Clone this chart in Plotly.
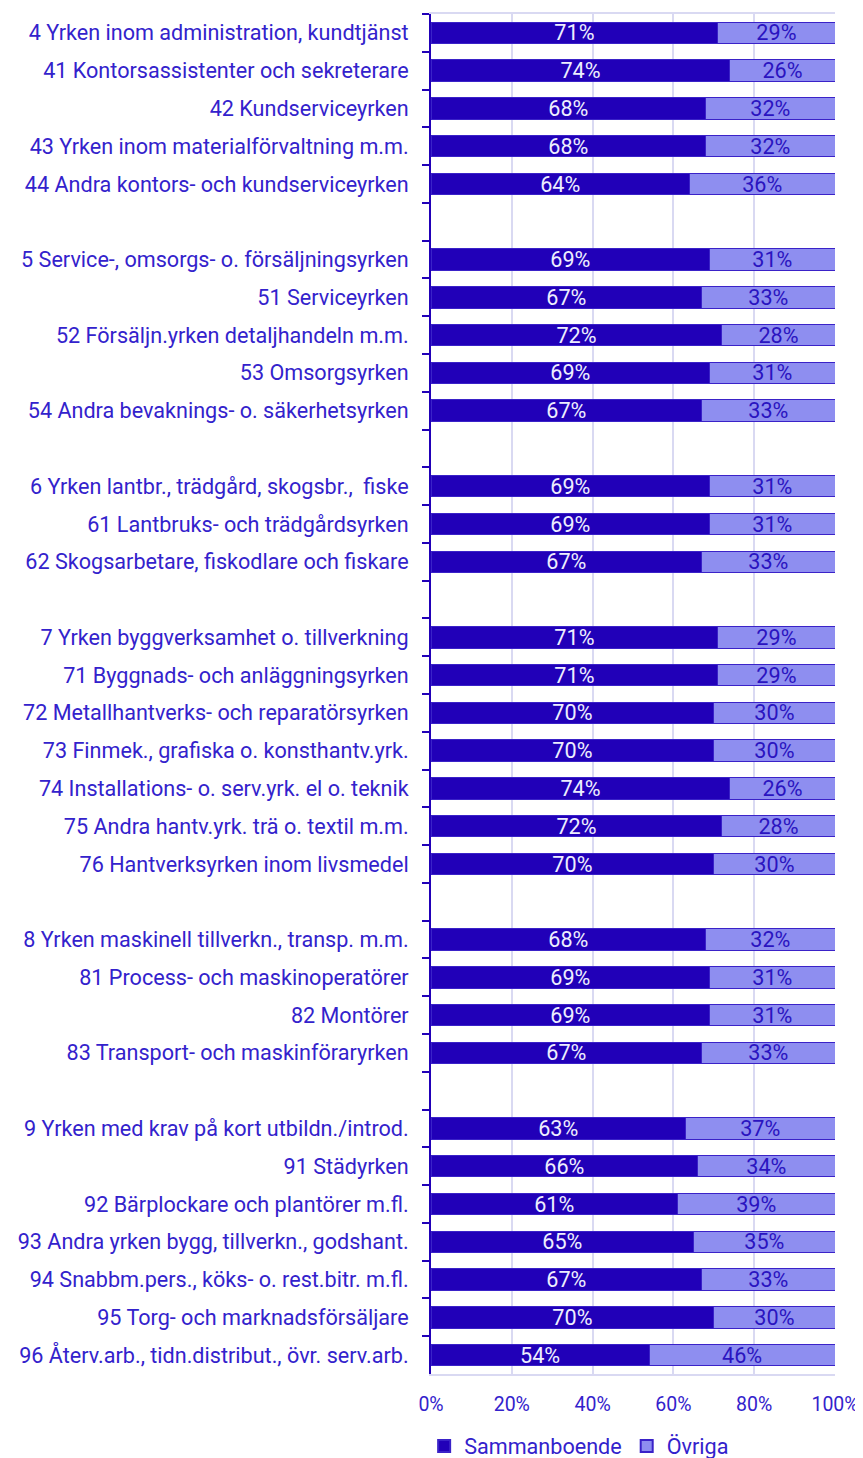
import plotly.graph_objects as go

categories = [
    "4 Yrken inom administration, kundtjänst",
    "41 Kontorsassistenter och sekreterare",
    "42 Kundserviceyrken",
    "43 Yrken inom materialförvaltning m.m.",
    "44 Andra kontors- och kundserviceyrken",
    " ",
    "5 Service-, omsorgs- o. försäljningsyrken",
    "51 Serviceyrken",
    "52 Försäljn.yrken detaljhandeln m.m.",
    "53 Omsorgsyrken",
    "54 Andra bevaknings- o. säkerhetsyrken",
    "  ",
    "6 Yrken lantbr., trädgård, skogsbr.,  fiske",
    "61 Lantbruks- och trädgårdsyrken",
    "62 Skogsarbetare, fiskodlare och fiskare",
    "   ",
    "7 Yrken byggverksamhet o. tillverkning",
    "71 Byggnads- och anläggningsyrken",
    "72 Metallhantverks- och reparatörsyrken",
    "73 Finmek., grafiska o. konsthantv.yrk.",
    "74 Installations- o. serv.yrk. el o. teknik",
    "75 Andra hantv.yrk. trä o. textil m.m.",
    "76 Hantverksyrken inom livsmedel",
    "    ",
    "8 Yrken maskinell tillverkn., transp. m.m.",
    "81 Process- och maskinoperatörer",
    "82 Montörer",
    "83 Transport- och maskinföraryrken",
    "     ",
    "9 Yrken med krav på kort utbildn./introd.",
    "91 Städyrken",
    "92 Bärplockare och plantörer m.fl.",
    "93 Andra yrken bygg, tillverkn., godshant.",
    "94 Snabbm.pers., köks- o. rest.bitr. m.fl.",
    "95 Torg- och marknadsförsäljare",
    "96 Återv.arb., tidn.distribut., övr. serv.arb.",
]

sammanboende = [71, 74, 68, 68, 64, None,
                69, 67, 72, 69, 67, None,
                69, 69, 67, None,
                71, 71, 70, 70, 74, 72, 70, None,
                68, 69, 69, 67, None,
                63, 66, 61, 65, 67, 70, 54]
ovriga = [29, 26, 32, 32, 36, None,
          31, 33, 28, 31, 33, None,
          31, 31, 33, None,
          29, 29, 30, 30, 26, 28, 30, None,
          32, 31, 31, 33, None,
          37, 34, 39, 35, 33, 30, 46]

x_ticks = [0, 20, 40, 60, 80, 100]
x_tick_labels = ["0%", "20%", "40%", "60%", "80%", "100%"]

DARK = "#2100B8"
LIGHT = "#8E8EF0"
EDGE = "#3A22C8"
TEXT = "#3322CC"
GRID = "#D9D9F2"
FONT = "Roboto"
FS = 21.6


def labels(vals):
    return ["" if v is None else f"{v}%" for v in vals]


fig = go.Figure()
fig.add_trace(go.Bar(
    y=categories, x=sammanboende, orientation="h", name="Sammanboende",
    marker=dict(color=DARK, line=dict(color=EDGE, width=1)),
    text=labels(sammanboende), textposition="inside", insidetextanchor="middle",
    textangle=0, constraintext="none",
    textfont=dict(family=FONT, size=FS, color="#EEEEFF"),
    hoverinfo="skip", width=0.57,
))
fig.add_trace(go.Bar(
    y=categories, x=ovriga, orientation="h", name="Övriga",
    marker=dict(color=LIGHT, line=dict(color=EDGE, width=1)),
    text=labels(ovriga), textposition="inside", insidetextanchor="middle",
    textangle=0, constraintext="none",
    textfont=dict(family=FONT, size=FS, color="#2A14C0"),
    hoverinfo="skip", width=0.57,
))

fig.update_layout(
    template="none",
    barmode="stack",
    width=855, height=1450,
    margin=dict(l=423, r=28, t=6, b=84, autoexpand=False),
    paper_bgcolor="white", plot_bgcolor="white",
    font=dict(family=FONT, size=FS, color=TEXT),
    bargap=0.43,
    legend=dict(orientation="h", xref="container", yref="container",
                x=0.668, xanchor="center", y=0.008, yanchor="middle",
                font=dict(family=FONT, size=FS, color=TEXT),
                itemsizing="constant", traceorder="normal", itemwidth=30,
                bgcolor="rgba(0,0,0,0)"),
    xaxis=dict(range=[0, 100], tickvals=x_ticks, ticktext=x_tick_labels,
               showgrid=True, gridcolor=GRID, gridwidth=2,
               showline=True, mirror=True, linecolor=GRID, linewidth=2,
               zeroline=False, ticks="", ticklen=0, automargin=False,
               ticklabelstandoff=12,
               tickfont=dict(family=FONT, size=19.5, color=TEXT)),
    yaxis=dict(autorange="reversed", type="category",
               categoryorder="array", categoryarray=categories,
               showline=True, linecolor=DARK, linewidth=2,
               ticks="outside", tickson="boundaries", ticklen=7, tickwidth=2,
               tickcolor=DARK, showgrid=False, automargin=False, zeroline=False,
               ticklabelstandoff=16,
               tickfont=dict(family=FONT, size=FS, color=TEXT)),
)

fig.write_html("out.html")
